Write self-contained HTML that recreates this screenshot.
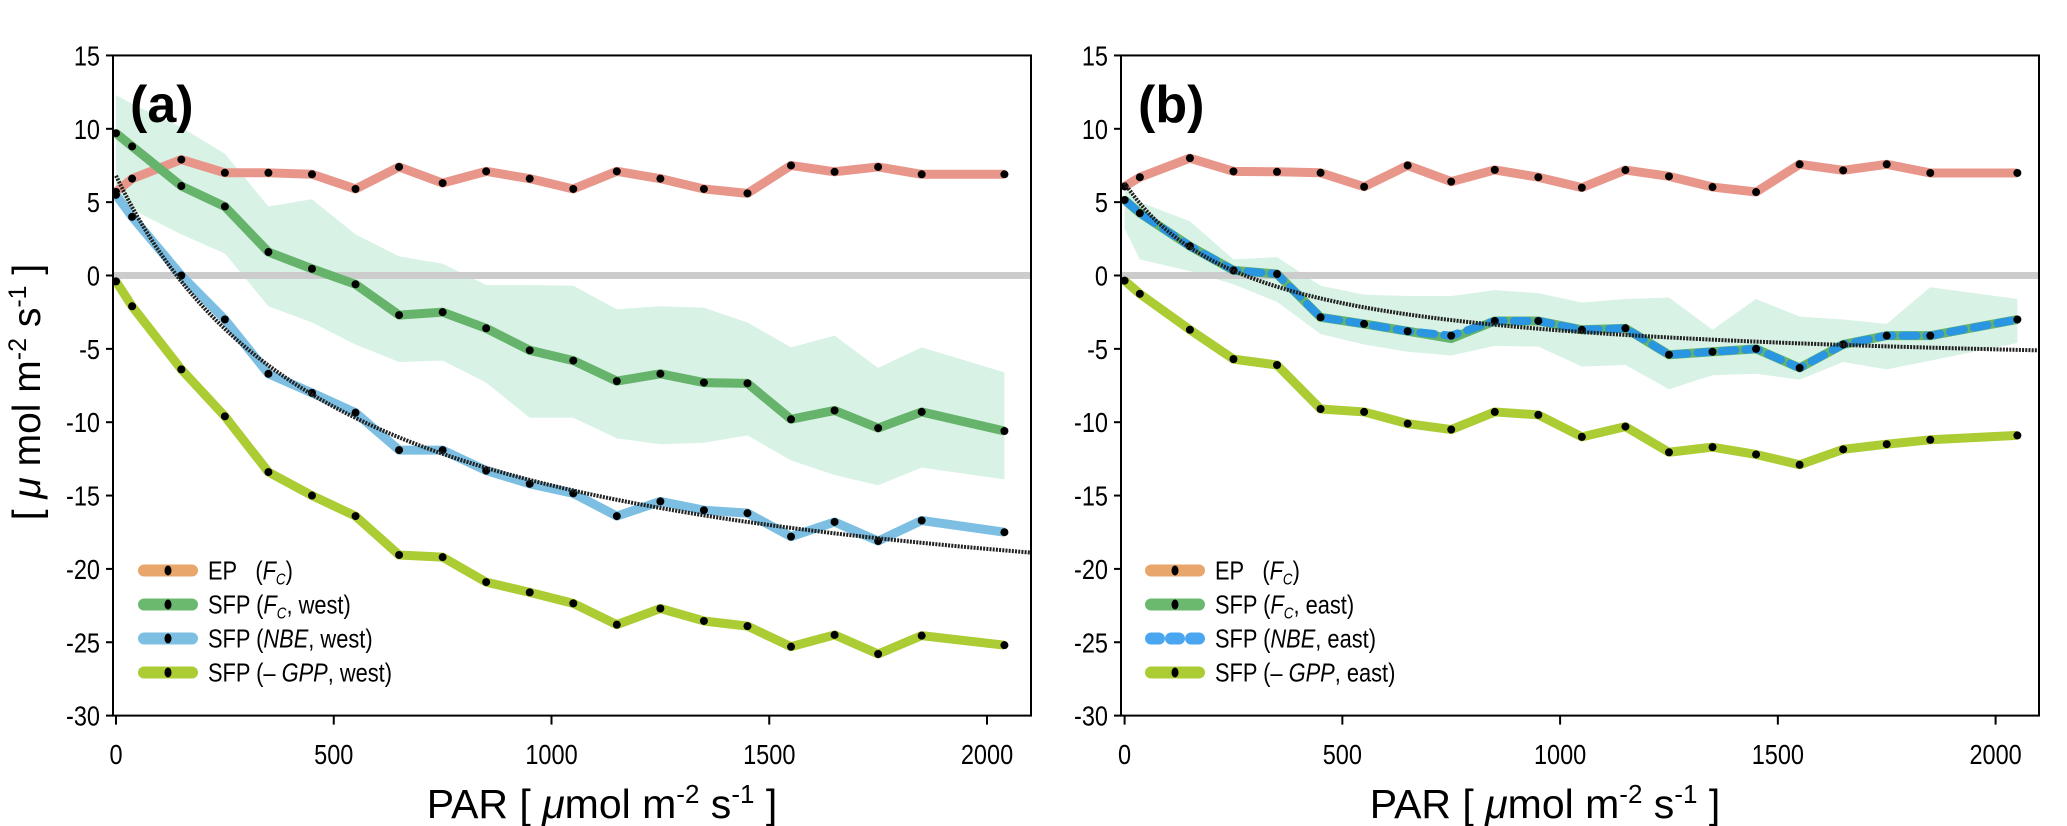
<!DOCTYPE html>
<html><head><meta charset="utf-8"><style>
html,body{margin:0;padding:0;background:#fff;}
svg{display:block;font-family:"Liberation Sans",sans-serif;}
</style></head><body>
<svg id="chart" width="2067" height="826" viewBox="0 0 2067 826" xmlns="http://www.w3.org/2000/svg"></svg>
<script>
const parA = [0,37,150,250,350,450,550,650,750,850,950,1050,1150,1250,1350,1450,1550,1650,1750,1850,2040];
const parB = [0,35,150,250,350,450,550,650,750,850,950,1050,1150,1250,1350,1450,1550,1650,1750,1850,2050];
const epA = [5.7,6.6,7.9,7.0,7.0,6.9,5.9,7.4,6.3,7.1,6.6,5.9,7.1,6.6,5.9,5.6,7.5,7.07,7.4,6.9,6.9];
const fcA = [9.7,8.8,6.1,4.7,1.6,0.46,-0.6,-2.7,-2.5,-3.6,-5.1,-5.8,-7.2,-6.7,-7.3,-7.35,-9.8,-9.2,-10.4,-9.3,-10.6];
const nbeA = [5.5,4.0,0,-3.0,-6.7,-8.0,-9.35,-11.9,-11.9,-13.3,-14.2,-14.85,-16.4,-15.4,-16.0,-16.2,-17.8,-16.8,-18.1,-16.7,-17.5];
const gppA = [-0.4,-2.1,-6.4,-9.6,-13.4,-15.0,-16.4,-19.05,-19.2,-20.9,-21.6,-22.35,-23.8,-22.7,-23.55,-23.9,-25.3,-24.5,-25.8,-24.55,-25.2];
const bandUpA = [12.3,11.7,10.1,8.3,4.7,5.2,2.8,1.3,0.8,-0.65,-0.65,-0.7,-2.3,-2.1,-2.2,-3.2,-4.9,-4.1,-6.3,-4.9,-6.6];
const bandLoA = [5.7,4.5,2.8,1.5,-2.1,-3.2,-4.7,-5.9,-5.8,-7.3,-9.7,-9.7,-11.1,-11.5,-11.4,-10.9,-12.6,-13.6,-14.3,-13.1,-13.9];
const epB = [6.07,6.7,8.0,7.1,7.07,7.0,6.05,7.5,6.4,7.2,6.7,5.99,7.19,6.76,6.03,5.69,7.58,7.17,7.58,6.99,6.99];
const fcB = [5.15,4.25,2.0,0.35,0.1,-2.85,-3.3,-3.8,-4.3,-3.1,-3.1,-3.7,-3.6,-5.4,-5.2,-5.0,-6.3,-4.7,-4.1,-4.1,-3.0];
const nbeB = [5.15,4.25,2.0,0.35,0.1,-2.85,-3.3,-3.8,-4.1,-3.1,-3.1,-3.7,-3.6,-5.4,-5.2,-5.0,-6.3,-4.7,-4.1,-4.1,-3.0];
const gppB = [-0.35,-1.25,-3.7,-5.7,-6.1,-9.1,-9.3,-10.1,-10.5,-9.3,-9.5,-11.0,-10.3,-12.05,-11.7,-12.2,-12.9,-11.85,-11.5,-11.2,-10.9];
const bandUpB = [6.1,5.0,3.7,1.1,1.25,-0.7,-1.3,-1.4,-1.4,-1.0,-1.2,-1.85,-1.6,-1.5,-3.7,-1.6,-2.8,-3.0,-3.3,-0.8,-1.6];
const bandLoB = [3.2,1.1,0.3,-0.6,-1.8,-4.0,-4.7,-5.2,-5.45,-4.8,-4.85,-6.2,-6.1,-7.75,-6.8,-6.7,-7.1,-5.9,-6.4,-5.8,-4.6];
const fitA = [6.8, 32, 0.062];   // [respiration, Pmax, alpha]
const fitB = [6.3, 13, 0.0442];
const yTicks = [15,10,5,0,-5,-10,-15,-20,-25,-30];
const xTicks = [0,500,1000,1500,2000];

const NS = "http://www.w3.org/2000/svg";
const svg = document.getElementById('chart');
function mk(tag, attrs, parent){ const e=document.createElementNS(NS,tag); for(const k in attrs) e.setAttribute(k,attrs[k]); (parent||svg).appendChild(e); return e; }
function narrow(x,y,attrs,parent){ attrs.transform='translate('+x+','+y+') scale(0.84,1)'; attrs.x=0; attrs.y=0; return mk('text',attrs,parent); }

function panel(cfg){
  const g = mk('g',{});
  
  
  const xs = v => cfg.x0 + v*0.4355;
  const ys = v => 275.5 - v*14.67;
  const L=cfg.left, R=cfg.right, T=ys(15), B=ys(-30);
  let d = cfg.par.map((p,i)=>(i?'L':'M')+xs(p)+','+ys(cfg.up[i])).join('');
  for(let i=cfg.par.length-1;i>=0;i--) d+='L'+xs(cfg.par[i])+','+ys(cfg.lo[i]);
  const band = mk('path',{d:d+'Z',fill:'#d8f2e5'},g);
  
  
  const z = mk('line',{x1:L,x2:R,y1:ys(0),y2:ys(0),stroke:'#cccccc','stroke-width':7},g);
  
  
  function series(vals,color,name,dash){
    const pts = cfg.par.map((p,i)=>xs(p)+','+ys(vals[i])).join(' ');
    const sg = mk('g',{},g);
    
    
    mk('polyline',{points:pts,fill:'none',stroke:color,'stroke-width':dash?8:9,'stroke-linejoin':'round','stroke-dasharray':dash||'none','stroke-linecap':dash?'round':'butt'},sg);
    return sg;
  }
  function dots(vals,name){
    const dg = mk('g',{},g);
    
    
    cfg.par.forEach((p,i)=>{ const c=mk('circle',{cx:xs(p),cy:ys(vals[i]),r:4,fill:'#000'},dg);
      
       });
  }
  series(cfg.ep,'#e8968a','ep-fc-line'); dots(cfg.ep,'ep-fc-points');
  series(cfg.gpp,'#abcc33','sfp-gpp-line'); dots(cfg.gpp,'sfp-gpp-points');
  series(cfg.fc,'#66b36c','sfp-fc-line');
  if(cfg.dashed){ series(cfg.nbe,'#2a95e0','sfp-nbe-line','14 10'); dots(cfg.nbe,'sfp-nbe-points'); }
  else { series(cfg.nbe,'#7cbfe2','sfp-nbe-line'); dots(cfg.nbe,'sfp-nbe-points'); dots(cfg.fc,'sfp-fc-points'); }
  let fd='';
  for(let p=0;p<=2100;p+=10){ const f=cfg.fit; const v=f[0]-f[2]*p*f[1]/(f[2]*p+f[1]); fd+=(p?'L':'M')+xs(p)+','+ys(v); }
  const fit=mk('path',{d:fd,fill:'none',stroke:'#222','stroke-width':4,'stroke-dasharray':'2 1.2'},g);
  
  
  const fr=mk('rect',{x:L,y:T,width:R-L,height:B-T,fill:'none',stroke:'#000','stroke-width':2},g);
  
  
  yTicks.forEach(t=>{ mk('line',{x1:L-7,x2:L,y1:ys(t),y2:ys(t),stroke:'#000','stroke-width':2},g);
    const tx=narrow(L-13,ys(t)+10,{'text-anchor':'end','font-size':28},g); tx.textContent=t;
    
     });
  xTicks.forEach(t=>{ mk('line',{x1:xs(t),x2:xs(t),y1:B,y2:B+9,stroke:'#000','stroke-width':2},g);
    const tx=narrow(xs(t),764,{'text-anchor':'middle','font-size':28},g); tx.textContent=t;
    
     });
  const xt=mk('text',{x:(L+R)/2+cfg.titleDx,y:818,'text-anchor':'middle','font-size':41},g);
  xt.innerHTML='PAR [ <tspan font-style="italic">μ</tspan>mol m<tspan dy="-15" font-size="26">-2</tspan><tspan dy="15"> s</tspan><tspan dy="-15" font-size="26">-1</tspan><tspan dy="15"> ]</tspan>';
  
  
  const pl=mk('text',{x:L+17,y:122,'font-size':52,'font-weight':'bold'},g); pl.textContent=cfg.label;
  
  
  const lg=mk('g',{},g);
  
  
  const items=[['#e8a66c','EP','(<tspan font-style="italic">F</tspan><tspan font-style="italic" font-size="16" dy="5">C</tspan><tspan dy="-5">)</tspan>',false],
    ['#6ab96f','SFP','(<tspan font-style="italic">F</tspan><tspan font-style="italic" font-size="16" dy="5">C</tspan><tspan dy="-5">, '+cfg.side+')</tspan>',false],
    [cfg.dashed?'#4aa6f0':'#7cbfe2','SFP','(<tspan font-style="italic">NBE</tspan>, '+cfg.side+')',cfg.dashed],
    ['#abcc33','SFP','(– <tspan font-style="italic">GPP</tspan>, '+cfg.side+')',false]];
  items.forEach((it,i)=>{
    const y=570.5+i*34; const e=mk('g',{},lg);
    
    
    mk('line',{x1:cfg.legX+5,x2:cfg.legX+53,y1:y,y2:y,stroke:it[0],'stroke-width':12,'stroke-linecap':'round','stroke-dasharray':it[3]?'8 12':'none'},e);
    if(!it[3]) mk('ellipse',{cx:cfg.legX+29,cy:y,rx:3.5,ry:5,fill:'#000'},e);
    const t=narrow(cfg.legX+69,y+9,{'font-size':26},e);
    t.innerHTML=it[1]+(i==0?'&#160;&#160; ':' ')+it[2];
  });
}
panel({name:'panel-a-west',label:'(a)',side:'west',left:113,right:1031,x0:116,par:parA,ep:epA,fc:fcA,nbe:nbeA,gpp:gppA,up:bandUpA,lo:bandLoA,fit:fitA,dashed:false,legX:139,titleDx:30});
panel({name:'panel-b-east',label:'(b)',side:'east',left:1121,right:2039,x0:1124.6,par:parB,ep:epB,fc:fcB,nbe:nbeB,gpp:gppB,up:bandUpB,lo:bandLoB,fit:fitB,dashed:true,legX:1146,titleDx:-35});
const yt=mk('text',{transform:'translate(40,392) rotate(-90)','text-anchor':'middle','font-size':39});
yt.innerHTML='[ <tspan font-style="italic">μ</tspan> mol m<tspan dy="-14" font-size="25">-2</tspan><tspan dy="14"> s</tspan><tspan dy="-14" font-size="25">-1</tspan><tspan dy="14"> ]</tspan>';


</script>
</body></html>
